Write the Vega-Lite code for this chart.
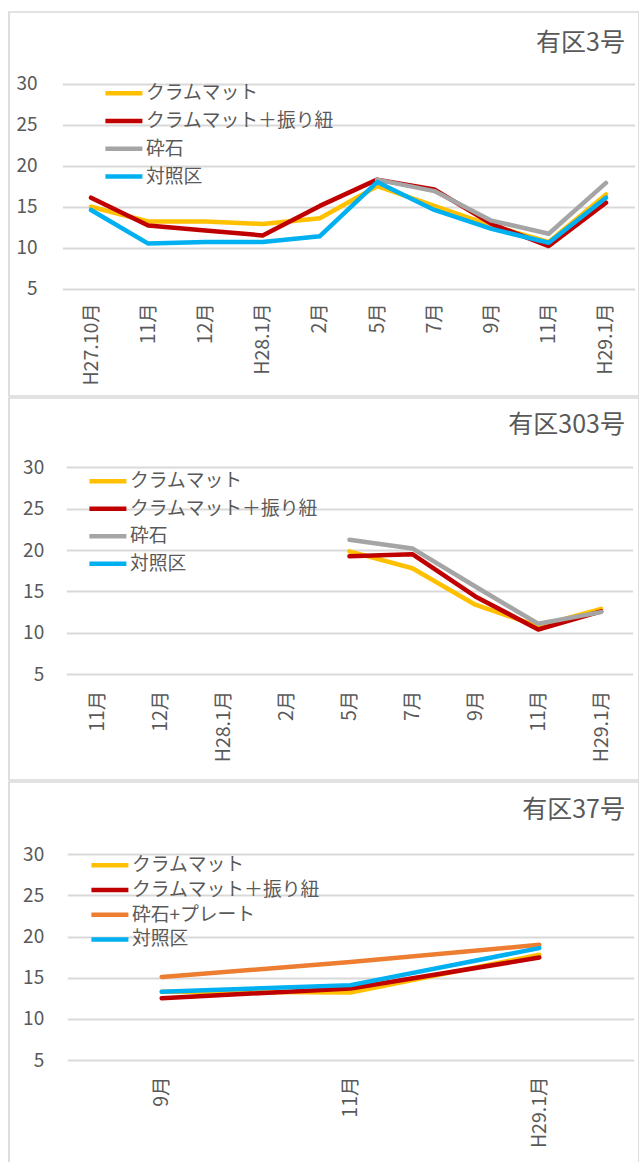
{
  "$schema": "https://vega.github.io/schema/vega-lite/v6.json",
  "background": "white",
  "padding": {"left": 8, "top": 11, "right": 0, "bottom": 0},
  "spacing": 0,
  "config": {
    "font": "Noto Sans CJK JP",
    "view": {"stroke": "#d9d9d9", "strokeWidth": 1.7},
    "axis": {"labelColor": "#595959", "labelFontSize": 19.5, "title": null, "ticks": false, "tickSize": 0, "domain": false},
    "axisY": {"grid": true, "gridColor": "#d9d9d9", "gridWidth": 1.8, "labelPadding": 0, "labelFontSize": 19},
    "axisX": {"grid": false, "labelAngle": -90},
    "legend": {"padding": 0, "labelFontSize": 18.8, "labelColor": "#595959", "labelLimit": 400, "labelOffset": 1, "symbolSize": 219, "symbolType": "M-4,0H1", "title": null, "orient": "none"},
    "title": {"anchor": "end", "frame": "group", "orient": "top", "baseline": "middle", "fontSize": 25, "fontWeight": "normal", "color": "#595959", "dx": -14},
    "line": {"strokeWidth": 4.5, "strokeCap": "round", "strokeJoin": "round"}
  },
  "datasets": {
    "temps": [
      {"site": "有区3号", "series": "クラムマット", "month": "H27.10月", "temp": 15.0},
      {"site": "有区3号", "series": "クラムマット", "month": "H27.11月", "temp": 13.2},
      {"site": "有区3号", "series": "クラムマット", "month": "H27.12月", "temp": 13.2},
      {"site": "有区3号", "series": "クラムマット", "month": "H28.1月", "temp": 12.9},
      {"site": "有区3号", "series": "クラムマット", "month": "H28.2月", "temp": 13.6},
      {"site": "有区3号", "series": "クラムマット", "month": "H28.5月", "temp": 17.5},
      {"site": "有区3号", "series": "クラムマット", "month": "H28.7月", "temp": 15.1},
      {"site": "有区3号", "series": "クラムマット", "month": "H28.9月", "temp": 12.7},
      {"site": "有区3号", "series": "クラムマット", "month": "H28.11月", "temp": 10.7},
      {"site": "有区3号", "series": "クラムマット", "month": "H29.1月", "temp": 16.5},
      {"site": "有区3号", "series": "クラムマット＋振り紐", "month": "H27.10月", "temp": 16.1},
      {"site": "有区3号", "series": "クラムマット＋振り紐", "month": "H27.11月", "temp": 12.7},
      {"site": "有区3号", "series": "クラムマット＋振り紐", "month": "H27.12月", "temp": 12.1},
      {"site": "有区3号", "series": "クラムマット＋振り紐", "month": "H28.1月", "temp": 11.5},
      {"site": "有区3号", "series": "クラムマット＋振り紐", "month": "H28.2月", "temp": 15.1},
      {"site": "有区3号", "series": "クラムマット＋振り紐", "month": "H28.5月", "temp": 18.3},
      {"site": "有区3号", "series": "クラムマット＋振り紐", "month": "H28.7月", "temp": 17.1},
      {"site": "有区3号", "series": "クラムマット＋振り紐", "month": "H28.9月", "temp": 12.9},
      {"site": "有区3号", "series": "クラムマット＋振り紐", "month": "H28.11月", "temp": 10.2},
      {"site": "有区3号", "series": "クラムマット＋振り紐", "month": "H29.1月", "temp": 15.5},
      {"site": "有区3号", "series": "砕石", "month": "H28.5月", "temp": 18.3},
      {"site": "有区3号", "series": "砕石", "month": "H28.7月", "temp": 16.9},
      {"site": "有区3号", "series": "砕石", "month": "H28.9月", "temp": 13.3},
      {"site": "有区3号", "series": "砕石", "month": "H28.11月", "temp": 11.7},
      {"site": "有区3号", "series": "砕石", "month": "H29.1月", "temp": 17.9},
      {"site": "有区3号", "series": "対照区", "month": "H27.10月", "temp": 14.6},
      {"site": "有区3号", "series": "対照区", "month": "H27.11月", "temp": 10.5},
      {"site": "有区3号", "series": "対照区", "month": "H27.12月", "temp": 10.7},
      {"site": "有区3号", "series": "対照区", "month": "H28.1月", "temp": 10.7},
      {"site": "有区3号", "series": "対照区", "month": "H28.2月", "temp": 11.4},
      {"site": "有区3号", "series": "対照区", "month": "H28.5月", "temp": 18.0},
      {"site": "有区3号", "series": "対照区", "month": "H28.7月", "temp": 14.6},
      {"site": "有区3号", "series": "対照区", "month": "H28.9月", "temp": 12.3},
      {"site": "有区3号", "series": "対照区", "month": "H28.11月", "temp": 10.6},
      {"site": "有区3号", "series": "対照区", "month": "H29.1月", "temp": 16.1},
      {"site": "有区303号", "series": "クラムマット", "month": "H28.5月", "temp": 19.85},
      {"site": "有区303号", "series": "クラムマット", "month": "H28.7月", "temp": 17.8},
      {"site": "有区303号", "series": "クラムマット", "month": "H28.9月", "temp": 13.4},
      {"site": "有区303号", "series": "クラムマット", "month": "H28.11月", "temp": 10.8},
      {"site": "有区303号", "series": "クラムマット", "month": "H29.1月", "temp": 12.9},
      {"site": "有区303号", "series": "クラムマット＋振り紐", "month": "H28.5月", "temp": 19.25},
      {"site": "有区303号", "series": "クラムマット＋振り紐", "month": "H28.7月", "temp": 19.5},
      {"site": "有区303号", "series": "クラムマット＋振り紐", "month": "H28.9月", "temp": 14.4},
      {"site": "有区303号", "series": "クラムマット＋振り紐", "month": "H28.11月", "temp": 10.4},
      {"site": "有区303号", "series": "クラムマット＋振り紐", "month": "H29.1月", "temp": 12.6},
      {"site": "有区303号", "series": "砕石", "month": "H28.5月", "temp": 21.25},
      {"site": "有区303号", "series": "砕石", "month": "H28.7月", "temp": 20.2},
      {"site": "有区303号", "series": "砕石", "month": "H28.9月", "temp": 15.6},
      {"site": "有区303号", "series": "砕石", "month": "H28.11月", "temp": 11.1},
      {"site": "有区303号", "series": "砕石", "month": "H29.1月", "temp": 12.5},
      {"site": "有区37号", "series": "クラムマット", "month": "H28.9月", "temp": 13.3},
      {"site": "有区37号", "series": "クラムマット", "month": "H28.11月", "temp": 13.2},
      {"site": "有区37号", "series": "クラムマット", "month": "H29.1月", "temp": 17.8},
      {"site": "有区37号", "series": "クラムマット＋振り紐", "month": "H28.9月", "temp": 12.5},
      {"site": "有区37号", "series": "クラムマット＋振り紐", "month": "H28.11月", "temp": 13.7},
      {"site": "有区37号", "series": "クラムマット＋振り紐", "month": "H29.1月", "temp": 17.45},
      {"site": "有区37号", "series": "砕石+プレート", "month": "H28.9月", "temp": 15.1},
      {"site": "有区37号", "series": "砕石+プレート", "month": "H28.11月", "temp": 16.9},
      {"site": "有区37号", "series": "砕石+プレート", "month": "H29.1月", "temp": 19.0},
      {"site": "有区37号", "series": "対照区", "month": "H28.9月", "temp": 13.3},
      {"site": "有区37号", "series": "対照区", "month": "H28.11月", "temp": 14.1},
      {"site": "有区37号", "series": "対照区", "month": "H29.1月", "temp": 18.6}
    ]
  },
  "vconcat": [
    {
      "width": 630,
      "height": 384,
      "title": {"text": "有区3号", "offset": -44},
      "data": {"name": "temps"},
      "transform": [{"filter": "datum.site === '有区3号'"}],
      "mark": {"type": "line"},
      "encoding": {
        "x": {
          "field": "month", "type": "ordinal",
          "scale": {"type": "point", "domain": ["H27.10月", "H27.11月", "H27.12月", "H28.1月", "H28.2月", "H28.5月", "H28.7月", "H28.9月", "H28.11月", "H29.1月"], "range": [53.4, 625.6], "padding": 0.5},
          "axis": {"offset": -107.3, "labelPadding": 14, "labelExpr": "indexof(['H27.10月','H28.1月','H29.1月'], datum.label) >= 0 ? datum.label : replace(datum.label, regexp('^H[0-9]+[.]'), '')"}
        },
        "y": {
          "field": "temp", "type": "quantitative",
          "scale": {"domain": [5, 30], "range": [276.7, 71.7], "nice": false, "zero": false},
          "axis": {"values": [5, 10, 15, 20, 25, 30], "offset": -28}
        },
        "color": {
          "field": "series", "type": "nominal",
          "scale": {"domain": ["クラムマット", "クラムマット＋振り紐", "砕石", "対照区"], "range": ["#FFC000", "#C00000", "#A5A5A5", "#00B0F0"]},
          "legend": {"legendX": 116, "legendY": 71.2, "rowPadding": 7.8, "symbolStrokeWidth": 4.5}
        }
      }
    },
    {
      "width": 630,
      "height": 382,
      "title": {"text": "有区303号", "offset": -40},
      "data": {"name": "temps"},
      "transform": [{"filter": "datum.site === '有区303号'"}],
      "mark": {"type": "line"},
      "encoding": {
        "x": {
          "field": "month", "type": "ordinal",
          "scale": {"type": "point", "domain": ["H27.11月", "H27.12月", "H28.1月", "H28.2月", "H28.5月", "H28.7月", "H28.9月", "H28.11月", "H29.1月"], "range": [57.3, 623.6], "padding": 0.5},
          "axis": {"offset": -105.8, "labelPadding": 16, "labelExpr": "indexof(['H27.10月','H28.1月','H29.1月'], datum.label) >= 0 ? datum.label : replace(datum.label, regexp('^H[0-9]+[.]'), '')"}
        },
        "y": {
          "field": "temp", "type": "quantitative",
          "scale": {"domain": [5, 30], "range": [276.2, 69.3], "nice": false, "zero": false},
          "axis": {"values": [5, 10, 15, 20, 25, 30], "offset": -34.7}
        },
        "color": {
          "field": "series", "type": "nominal",
          "scale": {"domain": ["クラムマット", "クラムマット＋振り紐", "砕石", "対照区"], "range": ["#FFC000", "#C00000", "#A5A5A5", "#00B0F0"]},
          "legend": {"legendX": 100, "legendY": 73.2, "rowPadding": 7.5, "symbolStrokeWidth": 3.5}
        }
      }
    },
    {
      "width": 630,
      "height": 384,
      "title": {"text": "有区37号", "offset": -41},
      "data": {"name": "temps"},
      "transform": [{"filter": "datum.site === '有区37号'"}],
      "mark": {"type": "line"},
      "encoding": {
        "x": {
          "field": "month", "type": "ordinal",
          "scale": {"type": "point", "domain": ["H28.9月", "H28.11月", "H29.1月"], "range": [58.3, 624.7], "padding": 0.5},
          "axis": {"offset": -106, "labelPadding": 16, "labelExpr": "indexof(['H27.10月','H28.1月','H29.1月'], datum.label) >= 0 ? datum.label : replace(datum.label, regexp('^H[0-9]+[.]'), '')"}
        },
        "y": {
          "field": "temp", "type": "quantitative",
          "scale": {"domain": [5, 30], "range": [278, 72.3], "nice": false, "zero": false},
          "axis": {"values": [5, 10, 15, 20, 25, 30], "offset": -34.7}
        },
        "color": {
          "field": "series", "type": "nominal",
          "scale": {"domain": ["クラムマット", "クラムマット＋振り紐", "砕石+プレート", "対照区"], "range": ["#FFC000", "#C00000", "#ED7D31", "#00B0F0"]},
          "legend": {"legendX": 102, "legendY": 73.3, "rowPadding": 4.7, "symbolStrokeWidth": 4}
        }
      }
    }
  ],
  "resolve": {"scale": {"color": "independent", "x": "independent", "y": "independent"}, "legend": {"color": "independent"}}
}
